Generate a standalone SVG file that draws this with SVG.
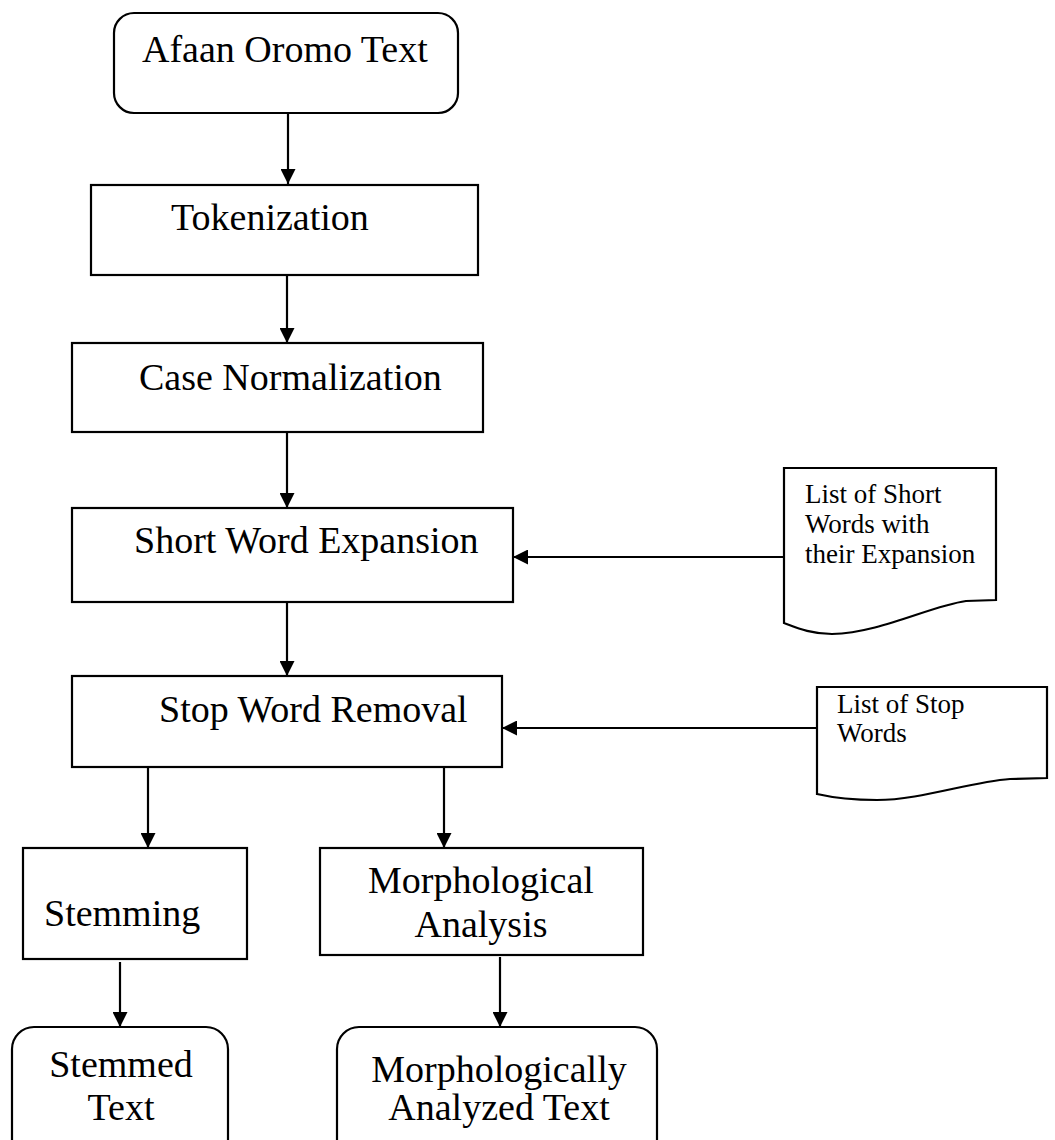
<svg xmlns="http://www.w3.org/2000/svg" width="1055" height="1140" viewBox="0 0 1055 1140">
<style>
.box{fill:#fff;stroke:#000;stroke-width:2.2}
.t{font-family:"Liberation Serif","Times New Roman",serif;font-size:38px;fill:#000}
.s{font-family:"Liberation Serif","Times New Roman",serif;font-size:27px;fill:#000}
.c{stroke:#000;stroke-width:2.2;fill:none;marker-end:url(#ah)}
</style>
<defs>
<marker id="ah" viewBox="0 0 15 15" refX="15" refY="7.5" markerWidth="15" markerHeight="15" markerUnits="userSpaceOnUse" orient="auto">
<path d="M0,0 L15,7.5 L0,15 z" fill="#000"/>
</marker>
</defs>
<rect width="1055" height="1140" fill="#fff"/>
<g id="connectors">
<line class="c" x1="288" y1="113" x2="288" y2="184"/>
<line class="c" x1="287" y1="275" x2="287" y2="343"/>
<line class="c" x1="287" y1="432" x2="287" y2="508"/>
<line class="c" x1="287" y1="602" x2="287" y2="676"/>
<line class="c" x1="784" y1="557" x2="513" y2="557"/>
<line class="c" x1="817" y1="728" x2="502" y2="728"/>
<line class="c" x1="148" y1="767" x2="148" y2="848"/>
<line class="c" x1="444" y1="767" x2="444" y2="848"/>
<line class="c" x1="120" y1="962" x2="120" y2="1027"/>
<line class="c" x1="500" y1="957" x2="500" y2="1027"/>
</g>
<g id="n-afaan">
<rect class="box" x="114" y="13" width="344" height="100" rx="20" ry="20"/>
<text class="t" x="142" y="62">Afaan Oromo Text</text>
</g>
<g id="n-token">
<rect class="box" x="91" y="185" width="387" height="90"/>
<text class="t" x="171" y="230">Tokenization</text>
</g>
<g id="n-case">
<rect class="box" x="72" y="343" width="411" height="89"/>
<text class="t" x="139" y="390">Case Normalization</text>
</g>
<g id="n-short">
<rect class="box" x="72" y="508" width="441" height="94"/>
<text class="t" x="134" y="553">Short Word Expansion</text>
</g>
<g id="n-stop">
<rect class="box" x="72" y="676" width="430" height="91"/>
<text class="t" x="159" y="722">Stop Word Removal</text>
</g>
<g id="n-shortlist">
<path class="box" d="M784,468 L996,468 L996,600 L966,601 C930,606 880,633 832,634 C810,634 795,627 784,623 Z"/>
<text class="s" x="805" y="503">List of Short</text>
<text class="s" x="805" y="533">Words with</text>
<text class="s" x="805" y="563">their Expansion</text>
</g>
<g id="n-stoplist">
<path class="box" d="M817,687 L1047,687 L1047,778 L1010,779 C970,782 920,800 877,800 C850,800 830,797 817,794 Z"/>
<text class="s" x="837" y="713">List of Stop</text>
<text class="s" x="837" y="742">Words</text>
</g>
<g id="n-stem">
<rect class="box" x="23" y="848" width="224" height="111"/>
<text class="t" x="44" y="926">Stemming</text>
</g>
<g id="n-morph">
<rect class="box" x="320" y="848" width="323" height="107"/>
<text class="t" x="481" y="893" text-anchor="middle">Morphological</text>
<text class="t" x="481" y="937" text-anchor="middle">Analysis</text>
</g>
<g id="n-stemmed">
<rect class="box" x="12" y="1027" width="216" height="140" rx="22" ry="22"/>
<text class="t" x="121" y="1077" text-anchor="middle">Stemmed</text>
<text class="t" x="121" y="1120" text-anchor="middle">Text</text>
</g>
<g id="n-analyzed">
<rect class="box" x="337" y="1027" width="320" height="140" rx="22" ry="22"/>
<text class="t" x="499" y="1082" text-anchor="middle">Morphologically</text>
<text class="t" x="499" y="1120" text-anchor="middle">Analyzed Text</text>
</g>
</svg>
